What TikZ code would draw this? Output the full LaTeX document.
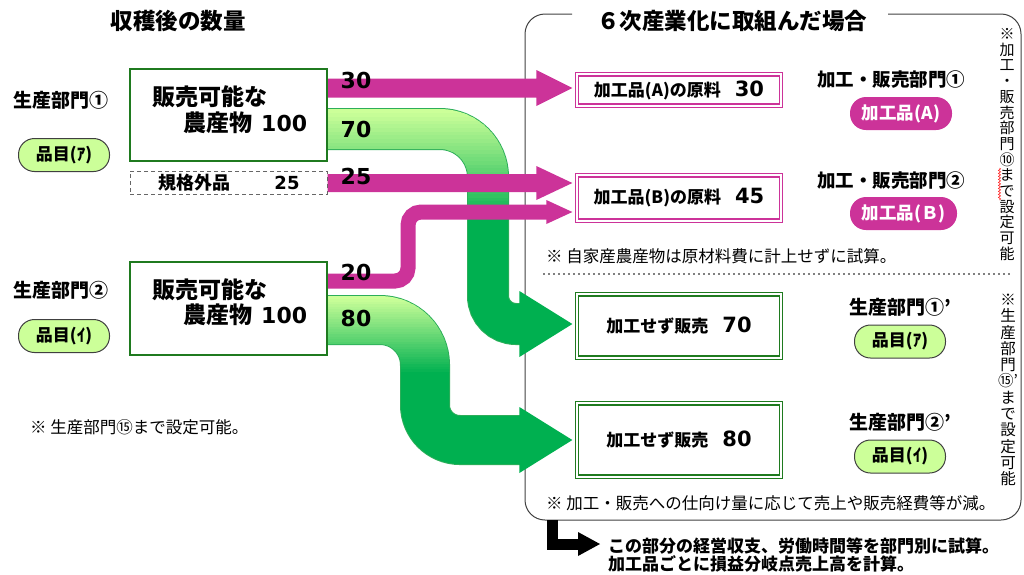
\documentclass[tikz,border=0pt]{standalone}
\usepackage{fontspec}
\setmainfont{Noto Sans CJK JP}
\newfontfamily\numf{DejaVu Sans}
\usetikzlibrary{calc,decorations.pathmorphing}
\definecolor{magc}{HTML}{CC3399}
\definecolor{gdark}{HTML}{00B050}
\definecolor{glight}{HTML}{CCFF99}
\definecolor{gedge}{HTML}{2DAE5A}
\definecolor{srcg}{HTML}{1F7A1F}
\definecolor{pillg}{HTML}{CCFF99}
\definecolor{framec}{HTML}{404040}
\newcommand\fs[1]{\fontsize{#1}{#1}\selectfont}
\pgfdeclarelayer{bg}
\pgfsetlayers{bg,main}
\tikzset{
 ttl/.style={font=\fs{22.5}\bfseries, inner sep=0pt},
 lab/.style={font=\fs{19}\bfseries, inner sep=0pt},
 big/.style={font=\fs{23}\bfseries, inner sep=0pt, anchor=west},
 note/.style={font=\fs{16.5}, inner sep=0pt, anchor=west},
 noteb/.style={font=\fs{17}\bfseries, inner sep=0pt, anchor=west},
 src/.style={draw=srcg, line width=1.5pt, fill=white, minimum width=197pt, inner sep=0pt},
 dsh/.style={draw=framec!80, dash pattern=on 4pt off 3pt, line width=1pt, fill=white, minimum width=197pt, minimum height=23pt, inner sep=0pt},
 tgtm/.style={draw=magc, double=white, double distance=2pt, line width=1.3pt, fill=white, minimum width=204pt, inner sep=0pt},
 tgtg/.style={draw=srcg, double=white, double distance=2pt, line width=1.3pt, fill=white, minimum width=204pt, inner sep=0pt},
 pillgs/.style={draw=framec, line width=1pt, fill=pillg, rounded corners=16pt, minimum width=91pt, minimum height=33pt, inner sep=0pt, font=\fs{17}\bfseries},
 pillms/.style={fill=magc, text=white, rounded corners=16pt, minimum height=33pt, inner sep=0pt, font=\fs{17.5}\bfseries},
 vt/.style={align=center, inner sep=0pt},
 numl/.style={font=\numf\fs{22}\bfseries, inner sep=0pt},
 framest/.style={draw=framec, line width=1pt, rounded corners=20pt},
}
\begin{document}
\begin{tikzpicture}[x=1pt,y=-1pt]
\useasboundingbox (0,0) rectangle (1024,574);

% titles
\node[ttl] (ttlL) at (178,21) {収穫後の数量};
\node[ttl] (ttlR) at (732,21) {６次産業化に取組んだ場合};

% left labels
\node[lab] (p1) at (61,100) {生産部門①};
\node[pillgs] (k1p) at (64,155) {品目(ｱ)};
\node[lab] (p2) at (61,290) {生産部門②};
\node[pillgs] (k2p) at (64,336) {品目(ｲ)};
\node[note] (nL) at (30,427) {※ 生産部門⑮まで設定可能。};

% source boxes
\node[src, minimum height=92pt] (b1) at (228.5,115) {};
\node[big] (b1a) at (152,97) {販売可能な};
\node[big] (b1b) at (183,123) {農産物\hspace{9pt}{\numf\fs{22}\bfseries 100}};
\node[dsh] (k1) at (228.5,182.5) {};
\node[font=\fs{18}\bfseries, inner sep=0pt, anchor=west] (k1a) at (158,183) {規格外品};
\node[font=\numf\fs{18}\bfseries, inner sep=0pt] (k1b) at (287,183) {25};
\node[src, minimum height=93pt] (b2) at (228.5,308.5) {};
\node[big] (b2a) at (152,290) {販売可能な};
\node[big] (b2b) at (183,315) {農産物\hspace{9pt}{\numf\fs{22}\bfseries 100}};

% target boxes
\node[tgtm, minimum height=31.4pt] (tA) at (679,90) {{\fs{17}\bfseries 加工品(A)の原料}\hspace{14pt}{\numf\fs{21}\bfseries 30}};
\node[tgtm, minimum height=45.4pt] (tB) at (679,198) {{\fs{17}\bfseries 加工品(B)の原料}\hspace{14pt}{\numf\fs{21}\bfseries 45}};
\node[tgtg, minimum height=63.4pt] (tC) at (679,326) {{\fs{17}\bfseries 加工せず販売}\hspace{14pt}{\numf\fs{21}\bfseries 70}};
\node[tgtg, minimum height=73.4pt] (tD) at (679,440) {{\fs{17}\bfseries 加工せず販売}\hspace{14pt}{\numf\fs{21}\bfseries 80}};

% right labels
\node[font=\fs{18.5}\bfseries, inner sep=0pt] (r1) at (891,80) {加工・販売部門①};
\node[pillms, minimum width=102pt] (r1p) at (901,113.5) {加工品(A)};
\node[font=\fs{18.5}\bfseries, inner sep=0pt] (r2) at (891,181) {加工・販売部門②};
\node[pillms, minimum width=107pt] (r2p) at (903.5,213.5) {加工品(Ｂ)};
\node[note] (nA) at (546,256) {※ 自家産農産物は原材料費に計上せずに試算。};
\node[lab] (r3) at (900,307) {生産部門①’};
\node[pillgs] (r3p) at (900,341.5) {品目(ｱ)};
\node[lab] (r4) at (900,422) {生産部門②’};
\node[pillgs] (r4p) at (900,456.5) {品目(ｲ)};
\node[note] (nB) at (546,503) {※ 加工・販売への仕向け量に応じて売上や販売経費等が減。};

% vertical notes
\node[vt, font=\fontsize{15}{15.7}\selectfont] (v1) at (1007,144.5) {※\\加\\工\\・\\販\\売\\部\\門\\⑩\\ま\\で\\設\\定\\可\\能};
\node[vt, font=\fontsize{15.5}{16.3}\selectfont] (v2) at (1008,390) {※\\生\\産\\部\\門\\⑮’\\ま\\で\\設\\定\\可\\能};
\draw[red, line width=0.5pt, decorate, decoration={snake, amplitude=1.1pt, segment length=3pt}] (999.5,168) -- (999.5,200);

% arrow end points
\coordinate (T30) at ($(tA.west)+(-4,-2)$);
\coordinate (T25) at ($(tB.west)+(-4,-15)$);
\coordinate (T20) at ($(tB.west)+(-4,14)$);
\coordinate (T70) at ($(tC.west)+(-4,-2)$);
\coordinate (T80) at ($(tD.west)+(-4,0)$);

\begin{pgfonlayer}{bg}
% frame
\draw[framest] (572,14) -- (525,14) -- (525,520) -- (1021,520) -- (1021,14) -- (888,14);
\draw[gray, line width=1.5pt, dash pattern=on 1.5pt off 3.5pt] (543,274) -- (1010,274);

% green band 70
\draw[gedge, line width=42pt] (b1.east |- 0,129) -- (440,129) arc[start angle=-90,end angle=0,radius=48] -- (488,296) arc[start angle=180,end angle=90,radius=28] -- ($(T70)+(-52,0)$);
\foreach \i in {0,...,30}{
 \pgfmathtruncatemacro\pc{\i*100/30}
 \pgfmathsetmacro\ya{\i==0 ? 100 : 110+\i*110/30}
 \pgfmathsetmacro\yb{\i==30 ? 420 : 110+(\i+1)*110/30+0.8}
 \begin{scope}
 \clip (300,\ya) rectangle (560,\yb);
 \draw[gdark!\pc!glight, line width=40pt] (b1.east |- 0,129) -- (440,129) arc[start angle=-90,end angle=0,radius=48] -- (488,296) arc[start angle=180,end angle=90,radius=28] -- ($(T70)+(-52,0)$);
 \end{scope}
}
\fill[gdark] ($(T70)+(-53,-33)$) -- (T70) -- ($(T70)+(-53,33)$) -- cycle;

% green band 80
\draw[gedge, line width=50pt] (b2.east |- 0,320) -- (380,320) arc[start angle=-90,end angle=0,radius=45] -- (425,405) arc[start angle=180,end angle=90,radius=35] -- ($(T80)+(-52,0)$);
\foreach \i in {0,...,30}{
 \pgfmathtruncatemacro\pc{\i*100/30}
 \pgfmathsetmacro\ya{\i==0 ? 285 : 297+\i*75/30}
 \pgfmathsetmacro\yb{\i==30 ? 520 : 297+(\i+1)*75/30+0.8}
 \begin{scope}
 \clip (300,\ya) rectangle (560,\yb);
 \draw[gdark!\pc!glight, line width=48pt] (b2.east |- 0,320) -- (380,320) arc[start angle=-90,end angle=0,radius=45] -- (425,405) arc[start angle=180,end angle=90,radius=35] -- ($(T80)+(-52,0)$);
 \end{scope}
}
\fill[gdark] ($(T80)+(-53,-33)$) -- (T80) -- ($(T80)+(-53,33)$) -- cycle;

% magenta arrows
\fill[magc] ($(b1.east |- T30)+(0,-9.5)$) -- ($(T30)+(-36,-9.5)$) -- ($(T30)+(-36,-18)$) -- (T30) -- ($(T30)+(-36,18)$) -- ($(T30)+(-36,9.5)$) -- ($(b1.east |- T30)+(0,9.5)$) -- cycle;
\fill[magc] ($(k1.east |- T25)+(0,-9)$) -- ($(T25)+(-36,-9)$) -- ($(T25)+(-36,-17)$) -- (T25) -- ($(T25)+(-36,17)$) -- ($(T25)+(-36,9)$) -- ($(k1.east |- T25)+(0,9)$) -- cycle;
\draw[magc, line width=15pt] (b2.east |- 0,281) -- (395,281) arc[start angle=90,end angle=0,radius=13] -- (408,225) arc[start angle=180,end angle=270,radius=13] -- ($(T20)+(-25,0)$);
\fill[magc] ($(T20)+(-26,-12)$) -- (T20) -- ($(T20)+(-26,12)$) -- cycle;
\end{pgfonlayer}

% flow labels
\node[numl] (l30) at (356,80) {30};
\node[numl] (l70) at (356,129) {70};
\node[numl] (l25) at (356,176) {25};
\node[numl] (l20) at (356,272) {20};
\node[numl] (l80) at (356,318) {80};

% bottom note with bent arrow
\coordinate (fb) at (552,520);
\node[noteb] (n1) at (608,546) {この部分の経営収支、労働時間等を部門別に試算。};
\node[noteb] (n2) at (608,564) {加工品ごとに損益分岐点売上高を計算。};
\draw[black, line width=11pt] (fb) |- ($(n1.west)+(-28,-2)$);
\fill[black] ($(n1.west)+(-30,-14)$) -- ($(n1.west)+(-8,-2)$) -- ($(n1.west)+(-30,10)$) -- cycle;
\end{tikzpicture}
\end{document}
